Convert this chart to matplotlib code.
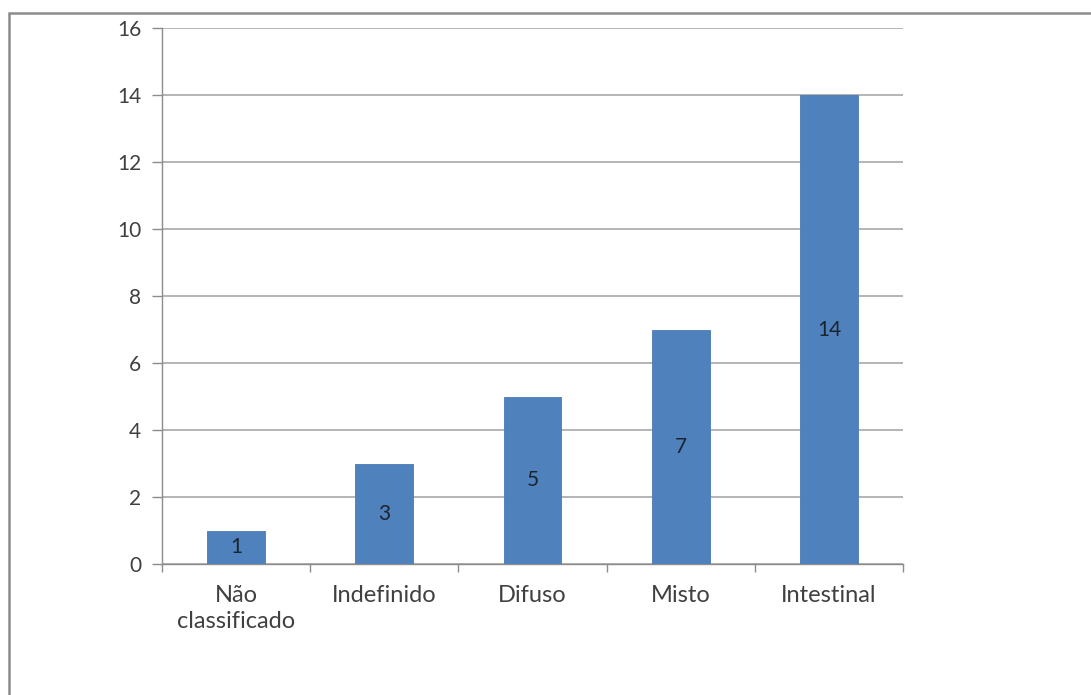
import matplotlib
matplotlib.use("Agg")
import matplotlib.pyplot as plt
from matplotlib.patches import Rectangle
import numpy as np

categories = ["Não\nclassificado", "Indefinido", "Difuso", "Misto", "Intestinal"]
values = [1, 3, 5, 7, 14]
y_ticks = [0, 2, 4, 6, 8, 10, 12, 14, 16]

plt.rcParams['font.family'] = ['Lato', 'DejaVu Sans']

bar_color = "#4F81BD"
text_color = "#404040"
axis_color = "#8c8c8c"

fig = plt.figure(figsize=(10.91, 6.95), dpi=100)
ax = fig.add_axes([162 / 1091, 1 - 564 / 695, (903 - 162) / 1091, (564 - 28) / 695])

# outer chart frame (runs off the right and bottom edges)
fig.patches.append(Rectangle((9 / 1091, -0.05), 1.2, 1 - 13 / 695 + 0.05,
                             transform=fig.transFigure, fill=False,
                             edgecolor="#8c8c8c", linewidth=1.8))

x = np.arange(len(categories))
bars = ax.bar(x, values, width=0.39, color=bar_color, zorder=3,
              edgecolor="#4a7ab5", linewidth=0.6)
for xi, v in zip(x, values):
    ax.text(xi, v / 2, str(v), ha="center", va="center", fontsize=15,
            color="#1c2430", zorder=4)

ax.set_xlim(-0.5, len(categories) - 0.5)
ax.set_ylim(0, 16)
ax.set_yticks(y_ticks)
ax.set_yticklabels([str(t) for t in y_ticks])
ax.yaxis.grid(True, color="#a8a8a8", linewidth=1.2, zorder=0)
ax.set_axisbelow(True)

ax.set_xticks(x)
ax.set_xticklabels(categories, fontsize=17, color=text_color, linespacing=1.3)
ax.set_xticks(np.arange(-0.5, len(categories)), minor=True)
ax.tick_params(axis="x", which="major", length=0, pad=15)
ax.tick_params(axis="x", which="minor", length=6, color=axis_color, width=1)
ax.tick_params(axis="y", length=7, color=axis_color, width=1, labelsize=15,
               labelcolor=text_color, pad=8)

for side in ["top", "right"]:
    ax.spines[side].set_visible(False)
for side in ["left", "bottom"]:
    ax.spines[side].set_color(axis_color)
    ax.spines[side].set_linewidth(1.0)

fig.savefig("out.png", dpi=100, facecolor="white")
